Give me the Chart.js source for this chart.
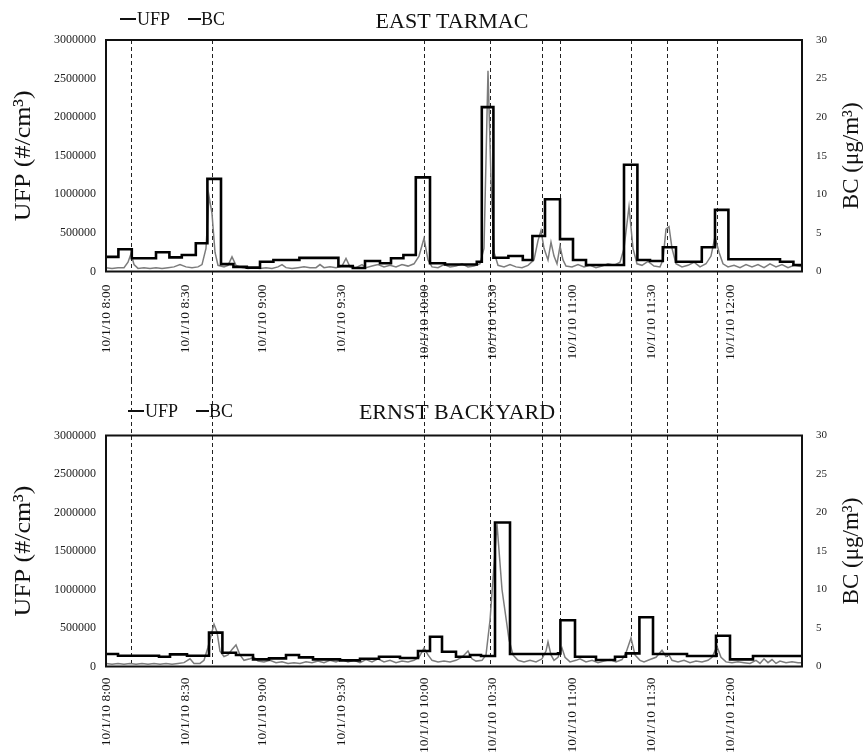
<!DOCTYPE html>
<html><head><meta charset="utf-8">
<script src="https://cdn.jsdelivr.net/npm/chart.js@4.4.1/dist/chart.umd.min.js"></script>
<style>
html,body{margin:0;padding:0;background:#fff;}
#wrap{position:relative;width:864px;height:756px;background:#fff;}
canvas{position:absolute;left:0;}
#c1{top:0;}
#c2{top:380px;}
</style></head><body>
<div id="wrap"><canvas id="c1" width="864" height="380"></canvas><canvas id="c2" width="864" height="376"></canvas></div>
<script>
// ---- x axis (sample index) ----
const tickPos = [0, 39.5, 78, 117.5, 159, 193, 233, 272.5, 312];
const tickLabels = ['10/1/10 8:00','10/1/10 8:30','10/1/10 9:00','10/1/10 9:30','10/1/10 10:00','10/1/10 10:30','10/1/10 11:00','10/1/10 11:30','10/1/10 12:00'];
const eventPos = [12.5, 53, 159, 192, 218, 227, 262.5, 280.5, 305.5];

// ---- EAST TARMAC ----
const ufpTopX = [0,6.2,12.9,25,31.7,37.9,44.9,50.7,57.5,63.7,70.4,77,83.7,96.7,116.2,123.4,129.5,137,142.5,148.7,154.9,162,169.5,185.4,187.9,193.7,201.2,208.4,213.2,219.5,227,233.5,240,259,265.7,272,278.4,285,297.9,304.5,311.2,337,343.7,348];
const ufpTopY = [190000,288000,172000,250000,183000,214000,366000,1200000,95000,60000,50000,127000,149000,176000,70000,45000,136000,106000,171000,214000,1220000,106000,90000,127000,2130000,179000,201000,149000,461000,937000,420000,149000,84000,1383000,149000,136000,314000,127000,314000,799000,158000,127000,84000,84000];
const bcTopX = [0,3,6,9,11,12.5,14,16,19,22,25,28,31,34,37,40,43,46,48,50,51.5,53,54.5,56,59,61,63,65,68,71,74,77,80,83,86,88,90,93,96,99,102,105,107,109,112,115,118,120,122,125,128,130,133,136,139,142,145,148,151,154,156.5,159,161,163,166,169,172,175,178,181,184,187,189,191,192.5,194,196,199,202,205,208,211,214,216,217.5,219,221,222.5,224,225.5,227,228.5,230,233,236,239,242,245,248,251,254,257,259,261.5,263.5,265.5,268,271,274,277,278.5,280,281.5,283,285,288,291,294,297,300,302.5,304.5,306.5,308.5,311,314,317,320,323,326,329,332,335,338,341,344,348];
const bcTopY = [0.5,0.4,0.5,0.5,1.2,2.3,0.9,0.4,0.5,0.4,0.5,0.4,0.5,0.6,0.9,0.6,0.5,0.6,0.9,3.0,9.8,7.5,2.5,0.8,0.6,0.8,1.9,0.8,0.5,0.4,0.5,0.4,0.5,0.4,0.6,0.9,0.5,0.4,0.5,0.6,0.5,0.5,0.9,0.5,0.6,0.5,0.7,1.7,0.6,0.5,0.9,0.5,0.7,0.9,0.6,0.8,0.6,0.9,0.7,1.0,2.0,4.3,1.5,0.6,0.5,0.9,0.6,0.7,1.0,0.6,0.7,1.0,3.0,26.0,12.0,2.5,0.8,0.6,0.9,0.6,0.5,0.8,1.5,4.0,5.3,3.0,1.5,3.8,2.0,1.0,3.3,1.5,0.7,0.6,0.9,0.6,0.8,0.5,0.7,1.0,0.8,1.2,3.0,8.4,3.0,1.0,0.8,1.3,0.7,0.6,1.5,5.5,5.8,3.0,1.0,0.6,0.8,1.2,0.6,1.0,2.0,4.5,2.5,1.0,0.6,0.8,0.5,0.9,0.6,0.9,0.5,1.0,0.6,0.9,0.5,0.8,0.6];

// ---- ERNST BACKYARD ----
const ufpBotX = [0,6,26.5,32,40.5,51.5,58.2,65,73.5,81.5,90,96.5,103.5,117,127,136.5,147,156,162,168,175,182,187.5,194.5,202,226,227.2,234.5,245,254.5,260,266.7,273.5,290.5,305,312,323.5,348];
const ufpBotY = [162000,140000,127000,158000,140000,440000,179000,149000,93000,106000,149000,119000,93000,80000,100000,127000,110000,201000,387000,192000,127000,149000,136000,1870000,162000,170000,600000,127000,84000,127000,171000,640000,162000,136000,400000,93000,136000,136000];
const bcBotX = [0,3,6,9,12,15,18,21,24,27,30,33,36,39,42,44,47,49,51,54,55.5,57,59,61,63,65,67,69,72,74,76,79,82,85,88,91,94,97,100,103,106,109,112,115,118,121,124,127,130,133,136,139,142,145,148,151,154,156.5,159,161,163,166,169,172,175,178,181,183,185,188,190,192,195.5,198,201.5,203.5,206,209,212,215,218,220,221,222.5,224,226,228,229.5,232,235,237,240,243,246,249,252,255,258,260,262.5,264.5,267,269,272,275,278,280,281.5,283,286,289,292,295,298,301,303,305.5,307.5,310,313,316,319,322,325,327,329,331,333,335,337,340,343,346,348];
const bcBotY = [0.4,0.3,0.4,0.3,0.4,0.3,0.4,0.3,0.4,0.3,0.4,0.3,0.4,0.5,1.0,0.4,0.4,0.8,2.5,5.5,4.5,2.0,1.3,1.5,2.2,2.8,1.5,0.8,1.0,1.2,0.7,0.6,0.8,0.5,0.6,0.4,0.5,0.4,0.6,0.5,0.7,0.5,0.8,0.6,0.9,0.6,0.8,0.5,0.9,0.6,1.0,0.6,0.8,0.5,0.7,0.6,0.8,1.2,2.4,1.5,0.8,0.6,0.7,0.6,0.8,1.2,2.0,1.0,0.7,0.8,1.5,6.0,18.5,10.0,3.5,1.5,0.8,0.6,0.8,0.6,1.0,2.0,3.2,1.5,0.8,1.2,2.4,1.2,0.6,0.8,1.0,0.6,0.8,0.5,0.7,0.9,0.6,0.9,1.8,3.7,1.5,0.8,0.6,0.9,1.2,2.1,1.3,1.5,0.8,0.6,0.8,0.5,0.7,0.6,0.8,1.2,2.6,1.2,0.6,0.5,0.6,0.5,0.4,0.8,0.4,1.0,0.5,0.9,0.4,0.7,0.5,0.6,0.5,0.5];

const SERIF = '"Liberation Serif","Times New Roman",serif';
const pts = (xs, ys) => xs.map((x, i) => ({x: x, y: ys[i]}));

function vText(ctx, text, x, y, size, sx) {
  ctx.save();
  ctx.translate(x, y); ctx.rotate(-Math.PI / 2); ctx.scale(sx, 1);
  ctx.font = size + 'px ' + SERIF; ctx.fillStyle = '#111';
  ctx.textAlign = 'center'; ctx.textBaseline = 'middle';
  ctx.fillText(text, 0, 0);
  ctx.restore();
}

const decor = {
  id: 'decor',
  beforeDatasetsDraw(chart, args, o) {
    const ctx = chart.ctx, xs = chart.scales.x, a = chart.chartArea;
    const y0 = o.linesFromArea ? a.top : 0;
    const y1 = o.linesFromArea ? chart.height : a.bottom;
    ctx.save();
    ctx.strokeStyle = '#222'; ctx.lineWidth = 1; ctx.setLineDash([4, 3]);
    eventPos.forEach(v => {
      const px = Math.round(xs.getPixelForValue(v)) + 0.5;
      ctx.beginPath(); ctx.moveTo(px, y0); ctx.lineTo(px, y1); ctx.stroke();
    });
    ctx.restore();
  },
  afterDraw(chart, args, o) {
    const ctx = chart.ctx, a = chart.chartArea;
    ctx.save();
    ctx.strokeStyle = '#111'; ctx.lineWidth = 2;
    ctx.strokeRect(a.left, a.top, a.right - a.left, a.bottom - a.top);
    ctx.fillStyle = '#111';
    ctx.font = '22px ' + SERIF; ctx.textAlign = 'center'; ctx.textBaseline = 'alphabetic';
    ctx.fillText(o.title, o.titleX, o.titleY);
    ctx.font = '18px ' + SERIF; ctx.textAlign = 'left';
    ctx.fillRect(o.legX, o.legY - 7, 16, 2);
    ctx.fillText('UFP', o.legX + 17, o.legY);
    ctx.fillRect(o.legX + 68, o.legY - 7, 13, 2);
    ctx.fillText('BC', o.legX + 81, o.legY);
    ctx.restore();
    const mid = (a.top + a.bottom) / 2;
    vText(ctx, 'UFP (#/cm³)', 24, mid, 24, 1.08);
    vText(ctx, 'BC (μg/m³)', 852, mid, 23, 1.0);
  }
};

function panel(id, ufpX, ufpY, bcX, bcY, padTop, xH, tickPad, deco) {
  return new Chart(document.getElementById(id), {
    type: 'line',
    data: { datasets: [
      { label: 'UFP', data: pts(ufpX, ufpY), yAxisID: 'y', stepped: true, borderColor: '#000', borderWidth: 2.6, pointRadius: 0, fill: false, order: 0 },
      { label: 'BC', data: pts(bcX, bcY), yAxisID: 'y1', borderColor: '#7c7c7c', borderWidth: 1.5, pointRadius: 0, tension: 0, fill: false, order: 1 }
    ]},
    plugins: [decor],
    options: {
      responsive: false, animation: false, events: [],
      layout: { padding: { top: padTop, left: 0, right: 0, bottom: 0 } },
      plugins: { legend: { display: false }, tooltip: { enabled: false }, decor: deco },
      scales: {
        x: {
          type: 'linear', min: 0, max: 348,
          afterBuildTicks: s => { s.ticks = tickPos.map(v => ({ value: v })); },
          afterFit: s => { s.height = xH; },
          grid: { display: false, drawTicks: false }, border: { display: false },
          ticks: { autoSkip: false, minRotation: 90, maxRotation: 90, padding: tickPad, color: '#111',
                   font: { family: SERIF, size: 13.5 }, callback: (v, i) => tickLabels[i] }
        },
        y: {
          position: 'left', min: 0, max: 3000000,
          afterFit: s => { s.width = 106; },
          grid: { display: false, drawTicks: false }, border: { display: false },
          ticks: { stepSize: 500000, padding: 10, color: '#222', font: { family: SERIF, size: 12 }, callback: v => String(v) }
        },
        y1: {
          position: 'right', min: 0, max: 30,
          afterFit: s => { s.width = 62; },
          grid: { display: false, drawTicks: false }, border: { display: false },
          ticks: { stepSize: 5, padding: 14, color: '#222', font: { family: SERIF, size: 11 }, callback: v => String(v) }
        }
      }
    }
  });
}

panel('c1', ufpTopX, ufpTopY, bcTopX, bcTopY, 40, 108.5, 13,
  { linesFromArea: true, title: 'EAST TARMAC', titleX: 452, titleY: 28, legX: 120, legY: 25 });
panel('c2', ufpBotX, ufpBotY, bcBotX, bcBotY, 55.5, 89.5, 11,
  { linesFromArea: false, title: 'ERNST BACKYARD', titleX: 457, titleY: 39, legX: 128, legY: 37 });
</script>
</body></html>
